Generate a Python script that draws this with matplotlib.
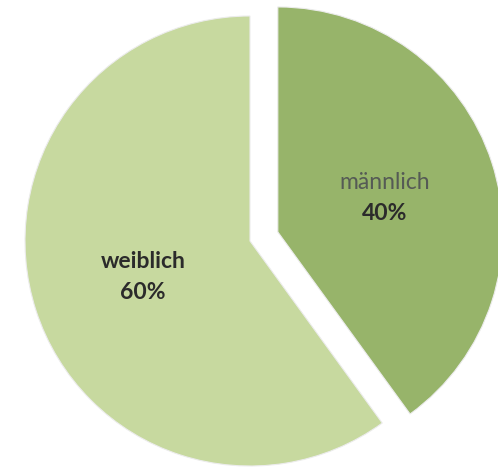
import numpy as np
import matplotlib.pyplot as plt

labels = ['männlich', 'weiblich']
values = [40, 60]
colors = ['#97b46a', '#c7d99f']
explode = [0.13, 0]

plt.rcParams['font.family'] = ['Lato', 'DejaVu Sans']

fig = plt.figure(figsize=(4.98, 4.77), dpi=100)
ax = fig.add_axes([0, 0, 1, 1])

wedges, _ = ax.pie(values, explode=explode, colors=colors, startangle=90,
                   counterclock=False,
                   wedgeprops=dict(edgecolor='#ececec', linewidth=0.8))

# label each slice halfway out along its bisector
for w, name, v in zip(wedges, labels, values):
    mid = np.deg2rad((w.theta1 + w.theta2) / 2)
    cx, cy = w.center
    x = cx + 0.5 * w.r * np.cos(mid)
    y = cy + 0.5 * w.r * np.sin(mid)
    if name == 'männlich':
        ax.text(x, y + 0.07, name, ha='center', va='center', fontsize=16.5,
                color='#555a55')
    else:
        ax.text(x, y + 0.07, name, ha='center', va='center', fontsize=16.5,
                color='#2b2b2b', fontweight='bold')
    ax.text(x, y - 0.068, f'{v}%', ha='center', va='center', fontsize=16.5,
            color='#2b2b2b', fontweight='bold')

ax.set_xlim(-250 / 225, 248 / 225)
ax.set_ylim(-235 / 225, 242 / 225)
ax.set_aspect('auto')
ax.axis('off')

fig.savefig('out.png', dpi=100, facecolor='white')
